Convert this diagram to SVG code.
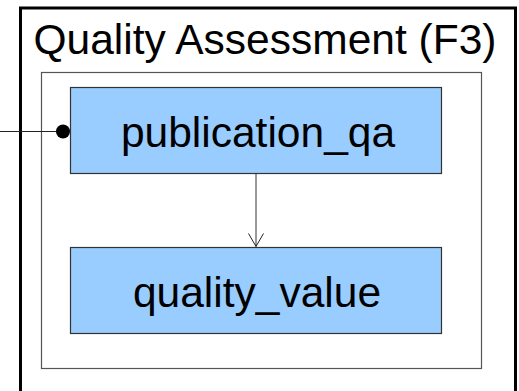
<svg xmlns="http://www.w3.org/2000/svg" width="519" height="391" viewBox="0 0 519 391">
<style>
text{font-family:"Liberation Sans",Arial,sans-serif;fill:#000;text-anchor:middle;font-size:42.5px}
.node rect{fill:#99ccff;stroke:#333;stroke-width:1.2}
</style>
<defs>
<marker id="open" markerWidth="16" markerHeight="18" refX="14" refY="8" orient="auto" markerUnits="userSpaceOnUse" viewBox="0 0 16 16">
<path d="M1,0.5 L14,8 L1,15.5" fill="none" stroke="#222" stroke-width="1"/>
</marker>
</defs>
<rect width="519" height="391" fill="#fff"/>
<g id="outer">
<rect x="20.5" y="8" width="495" height="395" fill="none" stroke="#000" stroke-width="3"/>
<text x="265" y="54">Quality Assessment (F3)</text>
</g>
<g id="inner">
<rect x="41.5" y="72.5" width="440" height="296" fill="none" stroke="#555" stroke-width="1.2"/>
</g>
<g id="publication_qa" class="node">
<rect x="70.5" y="87.5" width="371" height="86"/>
<text x="258" y="147">publication_qa</text>
</g>
<g id="quality_value" class="node">
<rect x="70.5" y="247.5" width="371" height="86"/>
<text x="257" y="307">quality_value</text>
</g>
<g id="connectors">
<line x1="256" y1="174" x2="256" y2="246.5" stroke="#333" stroke-width="1" marker-end="url(#open)"/>
<line x1="0" y1="131.5" x2="62" y2="131.5" stroke="#222" stroke-width="1"/>
<circle cx="63" cy="131.5" r="7" fill="#000"/>
</g>
</svg>
